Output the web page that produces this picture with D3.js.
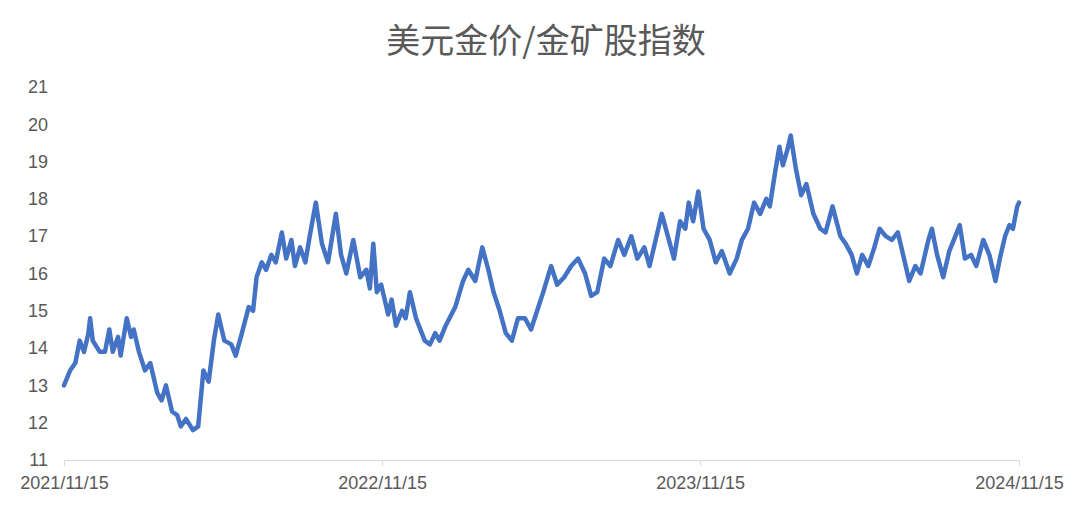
<!DOCTYPE html>
<html><head><meta charset="utf-8">
<script src="https://cdn.jsdelivr.net/npm/d3@7"></script>
<style>body{margin:0;background:#fff}</style></head>
<body><svg id="c" width="1080" height="513"></svg>
<script>
const startDate = "2021-11-15";
const dayOffsets = [0,7,13,18,23,28,30,33,41,47,52,56,62,65,72,77,80,86,93,99,107,112,117,124,130,134,140,148,154,160,166,172,177,184,192,197,203,212,217,221,227,232,238,243,250,255,261,265,271,277,282,289,296,303,312,318,324,332,340,347,351,355,359,364,372,376,381,388,392,397,404,414,420,426,431,438,449,458,464,472,480,487,493,500,507,514,521,529,536,543,550,559,566,574,582,590,598,605,612,620,627,636,643,651,658,666,672,679,686,693,700,707,713,717,722,728,734,741,748,755,764,772,778,785,792,799,806,810,816,821,825,830,834,840,846,852,860,868,874,882,891,897,904,910,916,923,930,936,943,950,957,964,970,977,983,992,996,1002,1009,1016,1023,1028,1034,1041,1047,1055,1062,1069,1074,1080,1085,1089,1094,1096];
const ratio = [13.0,13.4,13.6,14.2,13.9,14.4,14.8,14.2,13.9,13.9,14.5,13.9,14.3,13.8,14.8,14.3,14.5,13.9,13.4,13.6,12.8,12.6,13.0,12.3,12.2,11.9,12.1,11.8,11.9,13.4,13.1,14.2,14.9,14.2,14.1,13.8,14.3,15.1,15.0,15.9,16.3,16.1,16.5,16.3,17.1,16.4,16.9,16.2,16.7,16.3,17.0,17.9,16.8,16.3,17.6,16.5,16.0,16.9,15.9,16.1,15.6,16.8,15.5,15.7,14.9,15.3,14.6,15.0,14.8,15.5,14.8,14.2,14.1,14.4,14.2,14.6,15.1,15.8,16.1,15.8,16.7,16.1,15.5,15.0,14.4,14.2,14.8,14.8,14.5,15.0,15.5,16.2,15.7,15.9,16.2,16.4,16.0,15.4,15.5,16.4,16.2,16.9,16.5,17.0,16.4,16.7,16.2,16.9,17.6,17.0,16.4,17.4,17.2,17.9,17.4,18.2,17.2,16.9,16.3,16.6,16.0,16.4,16.9,17.2,17.9,17.6,18.0,17.8,18.7,19.4,18.9,19.3,19.7,18.8,18.1,18.4,17.6,17.2,17.1,17.8,17.0,16.8,16.5,16.0,16.5,16.2,16.7,17.2,17.0,16.9,17.1,16.4,15.8,16.2,16.0,16.9,17.2,16.5,15.9,16.6,17.0,17.3,16.4,16.5,16.2,16.9,16.5,15.8,16.4,17.0,17.3,17.2,17.8,17.9];
const xTickLabels = ["2021/11/15","2022/11/15","2023/11/15","2024/11/15"];
const yTicks = [11,12,13,14,15,16,17,18,19,20,21];
const title = "美元金价/金矿股指数";

const parse = d3.timeParse("%Y-%m-%d");
const fmt = d3.timeFormat("%Y/%m/%d");
const t0 = parse(startDate);
const data = dayOffsets.map((d,i)=>({date:d3.timeDay.offset(t0,d), v:ratio[i]}));
const svg = d3.select("#c");
const font = "'Noto Sans CJK SC','Liberation Sans',sans-serif";
const x = d3.scaleTime().domain([t0, parse("2024-11-15")]).range([64,1019]);
const y = d3.scaleLinear().domain([11,21]).range([460,87]);

svg.append("text").attr("x",546).attr("y",53).attr("text-anchor","middle")
  .attr("font-family",font).attr("font-size",34).attr("fill","#595959").text(title);

const tickDates = xTickLabels.map(s=>d3.timeParse("%Y/%m/%d")(s));
const xa = svg.append("g").attr("transform","translate(0,460)")
  .call(d3.axisBottom(x).tickValues(tickDates).tickFormat(fmt).tickSize(6).tickPadding(10));
xa.selectAll("path,line").attr("stroke","#d9d9d9");
xa.selectAll("text").attr("font-family","'Liberation Sans',sans-serif").attr("font-size",18).attr("fill","#595959");

const ya = svg.append("g").attr("transform","translate(48,0)")
  .call(d3.axisLeft(y).tickValues(yTicks).tickSize(0).tickPadding(0));
ya.select(".domain").remove();
ya.selectAll("text").attr("font-family","'Liberation Sans',sans-serif").attr("font-size",18).attr("fill","#595959");

svg.append("path").datum(data).attr("fill","none").attr("stroke","#4472C4")
  .attr("stroke-width",4.5).attr("stroke-linejoin","round").attr("stroke-linecap","round")
  .attr("d",d3.line().x(d=>x(d.date)).y(d=>y(d.v)));
</script></body></html>
